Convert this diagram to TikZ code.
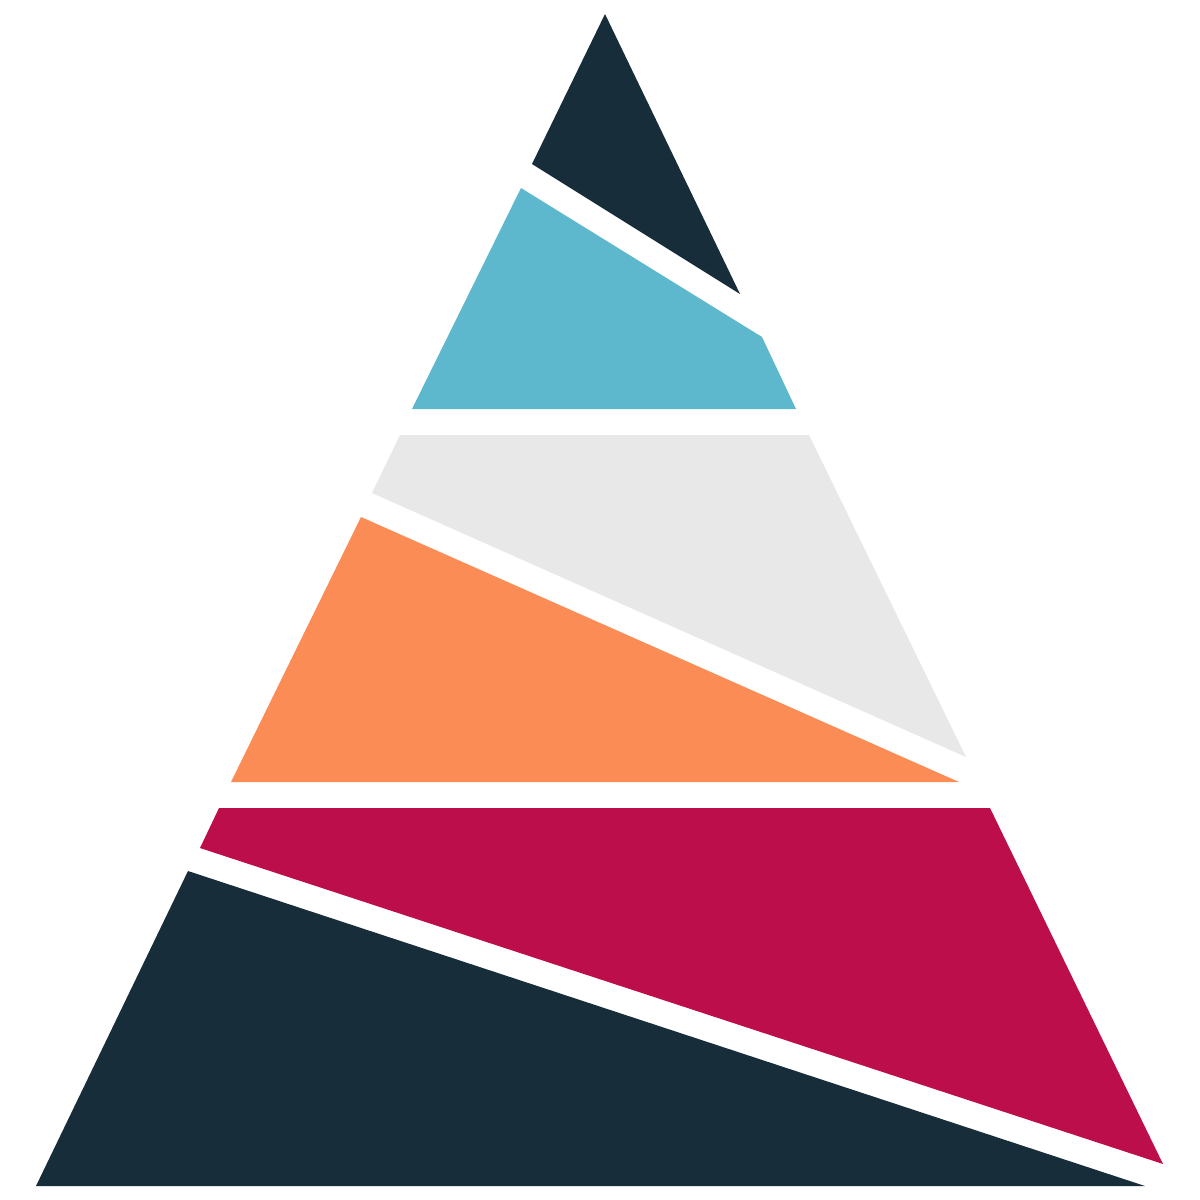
\documentclass[tikz,border=0pt]{standalone}
\definecolor{navy}{HTML}{172D3A}
\definecolor{cyanx}{HTML}{5DB8CD}
\definecolor{grayx}{HTML}{E8E8E8}
\definecolor{orangex}{HTML}{FB8C55}
\definecolor{crimson}{HTML}{BC0E4A}
\begin{document}
\begin{tikzpicture}[x=1pt,y=-1pt]
\useasboundingbox (0,0) rectangle (1200,1200);
\fill[white] (0,0) rectangle (1200,1200);
\fill[navy] (605,14) -- (740,294) -- (532,164) -- cycle;
\fill[cyanx] (521,188) -- (762,337) -- (796,409) -- (412,409) -- cycle;
\fill[grayx] (400,435) -- (809,435) -- (966,757) -- (372,493) -- cycle;
\fill[orangex] (361,517) -- (959,782) -- (231,782) -- cycle;
\fill[crimson] (219,808) -- (990,808) -- (1163,1164) -- (200,848) -- cycle;
\fill[navy] (188,871) -- (1145,1186) -- (36,1186) -- cycle;
\end{tikzpicture}
\end{document}
